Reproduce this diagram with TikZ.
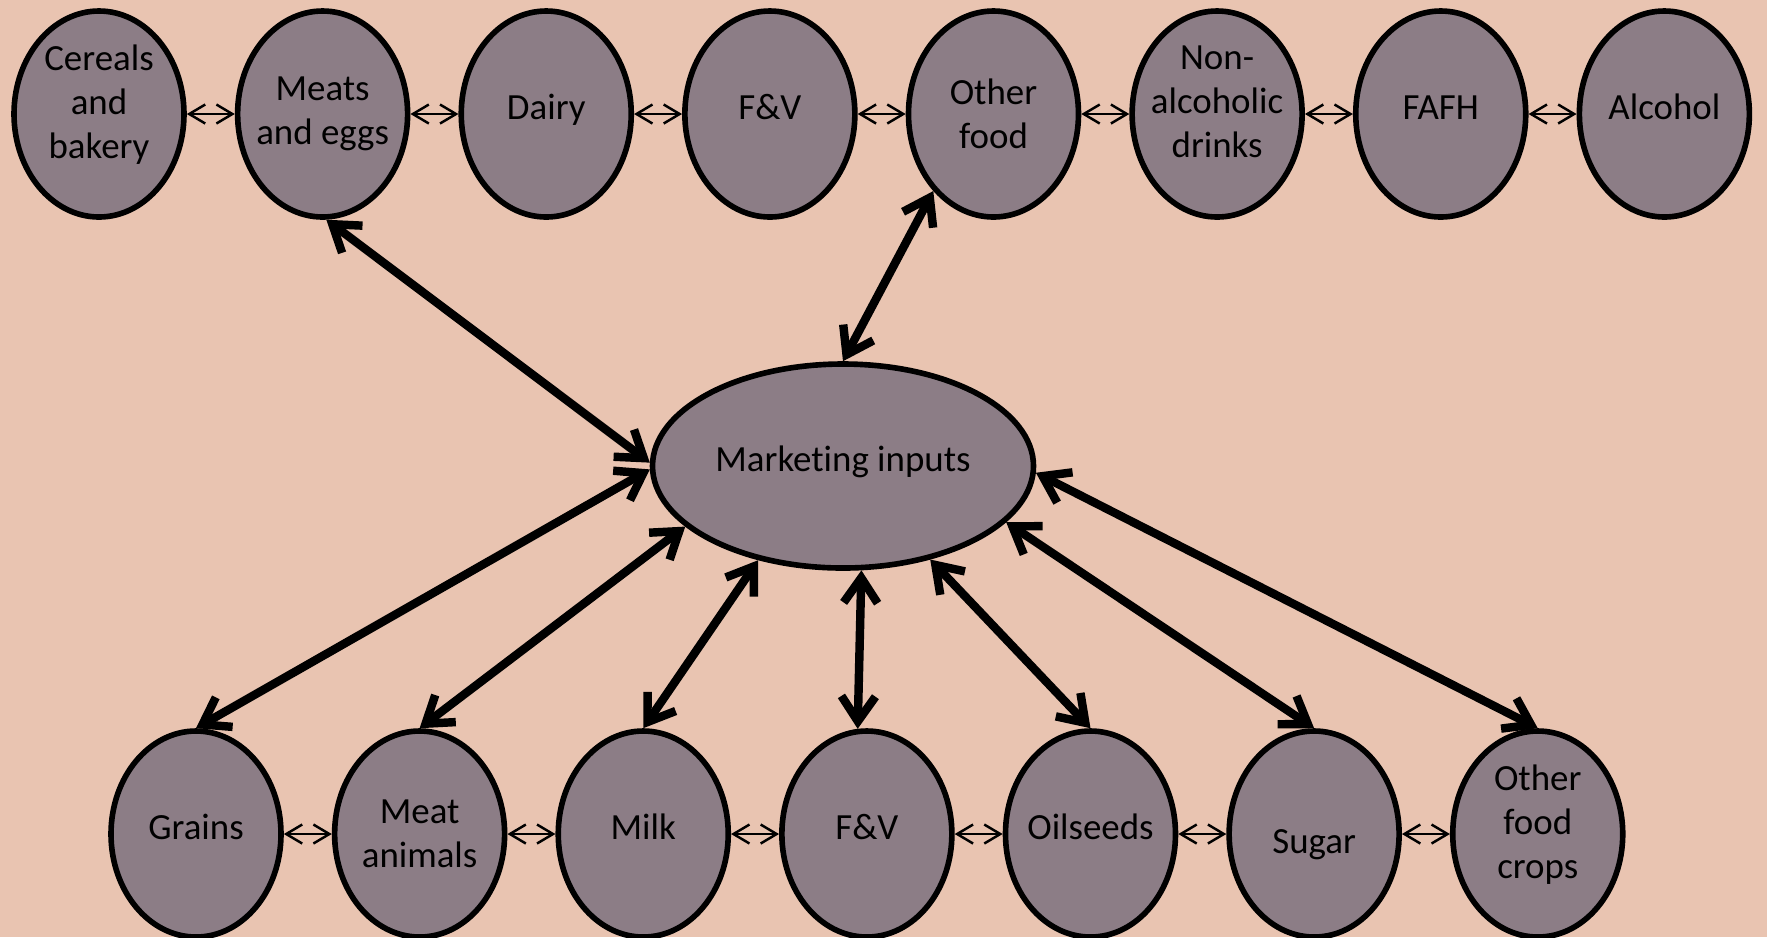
\documentclass[tikz,border=0pt]{standalone}
\usepackage{fontspec}
\setmainfont{Carlito}[Ligatures={NoCommon}]
\usepackage{xcolor}
\usetikzlibrary{positioning,shapes.geometric,arrows.meta}
\definecolor{peach}{RGB}{233,196,177}
\definecolor{mauve}{RGB}{140,125,134}

\begin{document}
\begin{tikzpicture}[
  item/.style={ellipse,draw,line width=1.6pt,fill=mauve,minimum width=1.7cm,minimum height=2.06cm,
    inner xsep=-3pt,inner ysep=0pt,align=center,font=\fontsize{10.5}{12.6}\selectfont},
  single/.style={text height=7pt,text depth=4pt},
  raised/.style={text depth=7pt},
  near/.style={{Straight Barb[length=1.6mm,width=1.9mm]}-{Straight Barb[length=1.6mm,width=1.9mm]},line width=0.7pt},
  feed/.style={{Straight Barb[length=2.5mm,width=3.4mm]}-{Straight Barb[length=2.5mm,width=3.4mm]},line width=2.4pt}]
\fill [peach] (0,0) rectangle (17.67,-9.37);
\useasboundingbox (0,0) rectangle (17.67,-9.37);

% food groups
\node [item,raised] (cer) at (0.99,-1.14) {Cereals\\and\\bakery};
\node [item,right=0.48cm of cer] (meats) {Meats\\and eggs};
\node [item,single,right=0.48cm of meats] (dairy) {Dairy};
\node [item,single,right=0.48cm of dairy] (fvtop) {F\&V};
\node [item,right=0.48cm of fvtop] (ofood) {Other\\food};
\node [item,raised,right=0.48cm of ofood] (drinks) {Non-\\alcoholic\\drinks};
\node [item,single,right=0.48cm of drinks] (fafh) {FAFH};
\node [item,single,right=0.48cm of fafh] (alc) {Alcohol};

% farm products
\node [item,single] (grains) at (1.96,-8.34) {Grains};
\node [item,right=0.48cm of grains] (animals) {Meat\\animals};
\node [item,single,right=0.48cm of animals] (milk) {Milk};
\node [item,single,right=0.48cm of milk] (fvfarm) {F\&V};
\node [item,single,right=0.48cm of fvfarm] (oil) {Oilseeds};
\node [item,text height=13.3pt,text depth=2pt,right=0.48cm of oil] (sugar) {Sugar};
\node [item,raised,right=0.48cm of sugar] (ocrops) {Other\\food\\crops};

\node [item,single,minimum width=3.81cm,minimum height=2.04cm] (mkt) at (8.43,-4.66) {Marketing inputs};

% neighbours
\draw [near] (cer) -- (meats);
\draw [near] (meats) -- (dairy);
\draw [near] (dairy) -- (fvtop);
\draw [near] (fvtop) -- (ofood);
\draw [near] (ofood) -- (drinks);
\draw [near] (drinks) -- (fafh);
\draw [near] (fafh) -- (alc);
\draw [near] (grains) -- (animals);
\draw [near] (animals) -- (milk);
\draw [near] (milk) -- (fvfarm);
\draw [near] (fvfarm) -- (oil);
\draw [near] (oil) -- (sugar);
\draw [near] (sugar) -- (ocrops);

% to and from marketing
\draw [feed] (meats.-88) -- (mkt.179);
\draw [feed] (ofood.-128) -- (mkt.north);
\draw [feed] (grains.north) -- (mkt.181);
\draw [feed] (animals.north) -- (mkt.201);
\draw [feed] (milk.north) -- (mkt.228);
\draw [feed] (fvfarm.95) -- (mkt.-80);
\draw [feed] (oil.north) -- (mkt.-47);
\draw [feed] (sugar.north) -- (mkt.-19);
\draw [feed] (ocrops.north) -- (mkt.-2);
\end{tikzpicture}
\end{document}
